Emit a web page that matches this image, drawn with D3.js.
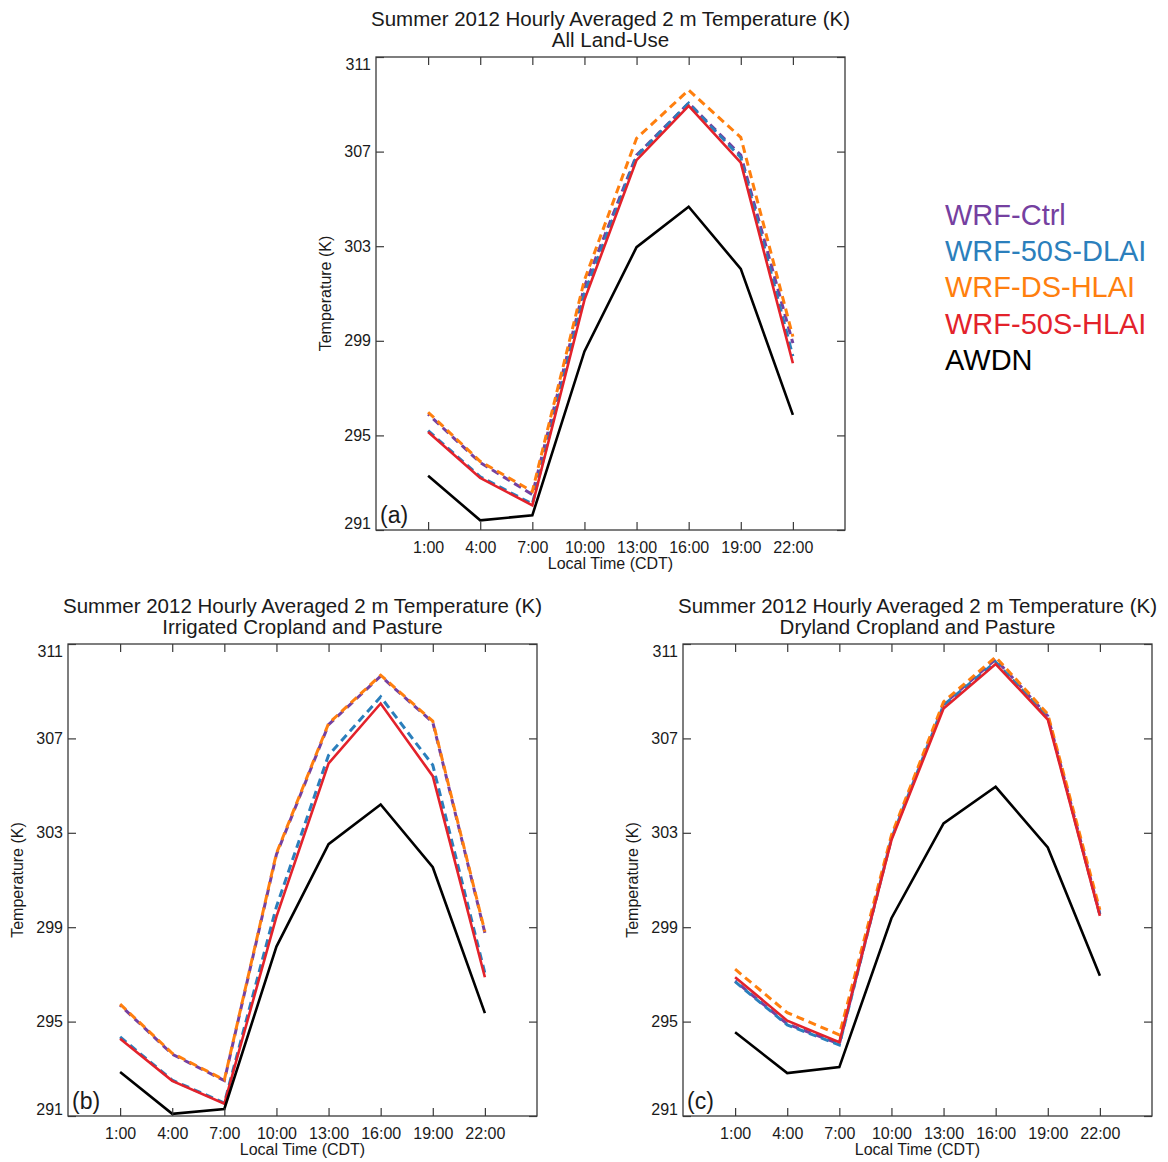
<!DOCTYPE html>
<html>
<head>
<meta charset="utf-8">
<script src="https://cdn.jsdelivr.net/npm/d3@7"></script>
<style>
  html, body { margin: 0; padding: 0; background: #fff; }
  svg { display: block; }
  text { font-family: "Liberation Sans", Arial, sans-serif; fill: #1a1a1a; }
</style>
</head>
<body>
<svg id="chart" width="1168" height="1162"></svg>
<script>
// ---------- data ----------
const hours = [1, 4, 7, 10, 13, 16, 19, 22];
const hourLabels = ["1:00", "4:00", "7:00", "10:00", "13:00", "16:00", "19:00", "22:00"];
const yTicks = [291, 295, 299, 303, 307, 311];

const seriesNames = ["WRF-Ctrl", "WRF-50S-DLAI", "WRF-DS-HLAI", "WRF-50S-HLAI", "AWDN"];
const seriesColors = ["#7540a0", "#2b7fbc", "#ff7f0e", "#e3222b", "#000000"];
const seriesDashed = [true, true, true, false, false];

const titleMain = "Summer 2012 Hourly Averaged 2 m Temperature (K)";
const panelSubtitles = ["All Land-Use", "Irrigated Cropland and Pasture", "Dryland Cropland and Pasture"];
const panelTags = ["(a)", "(b)", "(c)"];

// (a) All Land-Use
const allCtrl   = [295.90, 293.85, 292.50, 301.30, 306.85, 309.05, 306.85, 298.90];
const allDLAI   = [295.20, 293.25, 292.10, 301.00, 306.80, 309.05, 306.75, 298.35];
const allDSHLAI = [295.98, 293.90, 292.63, 301.57, 307.56, 309.60, 307.60, 299.18];
const all50SHLAI= [295.14, 293.20, 292.04, 300.73, 306.64, 308.93, 306.53, 298.05];
const allAWDN   = [293.29, 291.41, 291.62, 298.55, 302.96, 304.67, 302.04, 295.87];

// (b) Irrigated Cropland and Pasture
const irrCtrl   = [295.70, 293.62, 292.50, 302.08, 307.58, 309.64, 307.68, 298.76];
const irrDLAI   = [294.35, 292.52, 291.55, 299.87, 306.29, 308.76, 305.87, 297.05];
const irrDSHLAI = [295.74, 293.66, 292.53, 302.13, 307.63, 309.68, 307.73, 298.81];
const irr50SHLAI= [294.27, 292.49, 291.52, 299.45, 305.94, 308.48, 305.40, 296.88];
const irrAWDN   = [292.86, 291.09, 291.30, 298.18, 302.52, 304.20, 301.54, 295.36];

// (c) Dryland Cropland and Pasture
const dryCtrl   = [296.72, 294.90, 294.05, 302.80, 308.45, 310.35, 307.95, 299.55];
const dryDLAI   = [296.69, 294.86, 294.01, 302.76, 308.41, 310.24, 307.91, 299.52];
const dryDSHLAI = [297.22, 295.38, 294.44, 302.90, 308.55, 310.45, 308.03, 299.73];
const dry50SHLAI= [296.88, 295.04, 294.13, 302.69, 308.27, 310.15, 307.80, 299.48];
const dryAWDN   = [294.55, 292.82, 293.07, 299.38, 303.40, 304.95, 302.38, 296.94];

const panelSeries = [
  [allCtrl, allDLAI, allDSHLAI, all50SHLAI, allAWDN],
  [irrCtrl, irrDLAI, irrDSHLAI, irr50SHLAI, irrAWDN],
  [dryCtrl, dryDLAI, dryDSHLAI, dry50SHLAI, dryAWDN]
];

// ---------- layout ----------
const panelBoxes = [
  {x: 376, y: 57,  w: 469, h: 473},
  {x: 68,  y: 644, w: 469, h: 472},
  {x: 683, y: 644, w: 469, h: 472}
];

const svg = d3.select("#chart");
const frameColor = "#3a3a3a";
const tickLen = 8;

panelBoxes.forEach((box, p) => {
  const g = svg.append("g").attr("transform", `translate(${box.x},${box.y})`);
  const x = d3.scaleLinear().domain([-2, 25]).range([0, box.w]);
  const y = d3.scaleLinear().domain([291, 311]).range([box.h, 0]);

  // titles
  g.append("text").attr("x", box.w / 2).attr("y", -31)
    .attr("text-anchor", "middle").style("font-size", "20.5px").text(titleMain);
  g.append("text").attr("x", box.w / 2).attr("y", -10)
    .attr("text-anchor", "middle").style("font-size", "20.5px").text(panelSubtitles[p]);

  // series lines
  const line = d3.line().x((d, i) => x(hours[i])).y(d => y(d));
  panelSeries[p].forEach((vals, s) => {
    g.append("path").datum(vals)
      .attr("d", line)
      .attr("fill", "none")
      .attr("stroke", seriesColors[s])
      .attr("stroke-width", seriesDashed[s] ? 3 : 2.6)
      .attr("stroke-linejoin", "miter")
      .attr("stroke-dasharray", seriesDashed[s] ? "8,5" : null)
      .attr("stroke-dashoffset", s === 0 ? 6 : 0);
  });

  // bottom axis (ticks inward)
  const xb = g.append("g").attr("transform", `translate(0,${box.h})`)
    .call(d3.axisBottom(x).tickValues(hours).tickSize(-tickLen)
      .tickFormat((d, i) => hourLabels[i]).tickPadding(6));
  // top axis (ticks only)
  const xt = g.append("g")
    .call(d3.axisTop(x).tickValues(hours).tickSize(-tickLen).tickFormat(""));
  // left axis
  const yl = g.append("g")
    .call(d3.axisLeft(y).tickValues(yTicks).tickSize(-tickLen).tickFormat(d3.format("d")).tickPadding(5));
  // right axis
  const yr = g.append("g").attr("transform", `translate(${box.w},0)`)
    .call(d3.axisRight(y).tickValues(yTicks).tickSize(-tickLen).tickFormat(""));

  [xb, xt, yl, yr].forEach(a => {
    a.select(".domain").remove();
    a.selectAll(".tick line").attr("stroke", frameColor).attr("stroke-width", 1.2);
    a.selectAll("text").style("font-size", "16px").attr("fill", "#1a1a1a");
  });
  xb.selectAll(".tick text").attr("dy", "1.05em");
  // keep end labels inside the frame's extent
  yl.selectAll(".tick text")
    .attr("dy", d => d === 311 ? "0.75em" : (d === 291 ? "-0.1em" : "0.32em"));

  // frame
  g.append("rect").attr("x", 0).attr("y", 0).attr("width", box.w).attr("height", box.h)
    .attr("fill", "none").attr("stroke", frameColor).attr("stroke-width", 1.3);

  // axis titles
  g.append("text").attr("x", box.w / 2).attr("y", box.h + 39)
    .attr("text-anchor", "middle").style("font-size", "16px").text("Local Time (CDT)");
  g.append("text")
    .attr("transform", `translate(-45,${box.h / 2}) rotate(-90)`)
    .attr("text-anchor", "middle").style("font-size", "16px").text("Temperature (K)");

  // panel tag
  g.append("text").attr("x", 4).attr("y", box.h - 7)
    .style("font-size", "23px").text(panelTags[p]);
});

// legend
const legend = svg.append("g").attr("transform", "translate(945,225)");
seriesNames.forEach((name, i) => {
  legend.append("text").attr("x", 0).attr("y", i * 36.2)
    .style("font-size", "29px").style("fill", seriesColors[i]).text(name);
});
</script>
</body>
</html>
